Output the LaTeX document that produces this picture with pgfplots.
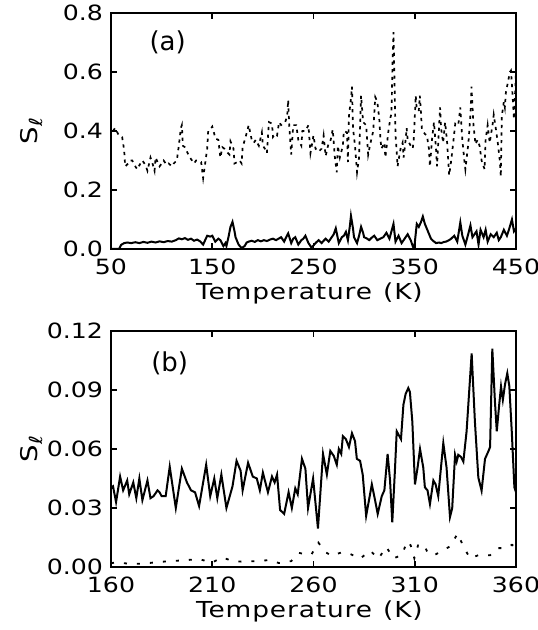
\documentclass[border=0pt]{standalone}
\usepackage{fontspec}
\setmainfont{DejaVu Sans}
\newfontfamily\labfont[LetterSpace=4,FakeStretch=1.2]{DejaVu Sans}
\newfontfamily\tickfont[FakeStretch=1.2]{DejaVu Sans}
\usepackage{pgfplots}
\pgfplotsset{compat=1.18}
\begin{document}
\begin{tikzpicture}
\pgfplotsset{
  myaxis/.style={
    scale only axis, width=202.5pt, height=118pt,
    axis line style={line width=1pt},
    tick style={line width=0.9pt, black},
    major tick length=3.2pt, tick align=inside,
    xtick pos=both, ytick pos=both,
    /pgf/number format/assume math mode=true,
    tick label style={font=\fontsize{10.5}{12}\tickfont},
    xticklabel style={yshift=-1.5pt},
    yticklabel style={xshift=-0.5pt},
    xlabel style={at={(axis description cs:0.49,-0.19)}, anchor=center, font=\fontsize{11}{13}\labfont},
    ylabel style={at={(axis description cs:-0.195,0.5)}, anchor=center, font=\fontsize{11.5}{13}\tickfont},
    xlabel={Temperature\hspace{0.5em}(K)},
    ylabel={S\raisebox{-0.4ex}{\fontsize{9}{10}\selectfont ℓ}},
  }
}
\path[use as bounding box] (-55.5pt,-190.5pt) rectangle (213pt,124.5pt);
% ---------------- panel (a)
\begin{axis}[myaxis, at={(0pt,0pt)}, anchor=south west,
  xmin=50, xmax=450, ymin=0, ymax=0.8,
  xtick={50,150,250,350,450}, ytick={0,0.2,0.4,0.6,0.8},
  yticklabel style={/pgf/number format/.cd, fixed, fixed zerofill, precision=1},
  clip=true]
\addplot[black, line width=0.85pt, dash pattern=on 1.6pt off 2.2pt] coordinates {
(52,0.40)(54,0.41)(57,0.39)(61,0.38)(63,0.335)(64,0.28)(67,0.29)(69,0.30)(71,0.30)(73,0.285)
(76,0.27)(79,0.29)(81,0.30)(84,0.285)(86,0.265)(89,0.31)(91,0.29)(93,0.265)(94,0.31)(96,0.295)
(98,0.28)(100,0.29)(102,0.30)(105,0.285)(107,0.29)(110,0.28)(112,0.29)(115,0.30)(117,0.35)(119,0.41)
(120,0.42)(121,0.35)(123,0.345)(125,0.33)(128,0.31)(130,0.30)(132,0.29)(134,0.30)(136,0.30)(139,0.295)
(141,0.24)(143,0.29)(145,0.34)(146,0.40)(148,0.405)(150,0.415)(152,0.39)(153,0.375)(156,0.37)(158,0.31)
(160,0.345)(162,0.34)(164,0.33)(167,0.32)(168,0.365)(170,0.35)(171,0.34)(172,0.29)(175,0.295)(177,0.30)
(179,0.29)(180,0.345)(183,0.38)(186,0.42)(189,0.37)(191,0.36)(193,0.37)(196,0.35)(199,0.395)(200,0.35)
(202,0.34)(204,0.325)(206,0.43)(209,0.425)(210,0.38)(212,0.39)(214,0.385)(216,0.43)(218,0.42)(220,0.425)
(222,0.43)(224,0.45)(225,0.505)(226,0.42)(227,0.37)(228,0.32)(230,0.42)(233,0.42)(235,0.37)(238,0.35)
(239,0.40)(242,0.40)(245,0.42)(247,0.325)(250,0.385)(252,0.34)(255,0.33)(258,0.34)(260,0.385)(262,0.315)
(265,0.36)(267,0.37)(269,0.405)(271,0.315)(273,0.26)(274,0.35)(276,0.31)(279,0.35)(280,0.40)(283,0.395)
(284,0.295)(285,0.45)(287,0.51)(288,0.55)(289,0.41)(291,0.35)(293,0.26)(295,0.31)(296,0.41)(297,0.52)
(299,0.43)(302,0.42)(304,0.32)(306,0.355)(309,0.40)(311,0.515)(313,0.50)(315,0.44)(316,0.38)(317,0.34)
(320,0.36)(321,0.31)(324,0.40)(326,0.445)(327,0.46)(328,0.62)(329,0.735)(330,0.57)(331,0.385)(332,0.34)
(333,0.28)(336,0.34)(338,0.36)(339,0.31)(341,0.37)(342,0.41)(343,0.37)(346,0.35)(348,0.34)(349,0.37)
(351,0.52)(352,0.47)(354,0.47)(355,0.52)(356,0.47)(357,0.41)(358,0.40)(360,0.39)(362,0.385)(364,0.34)
(365,0.28)(367,0.37)(369,0.43)(371,0.34)(372,0.28)(375,0.48)(376,0.41)(378,0.36)(380,0.43)(382,0.36)
(384,0.25)(386,0.30)(388,0.36)(390,0.425)(393,0.42)(395,0.48)(397,0.37)(399,0.30)(400,0.27)(403,0.36)
(405,0.455)(406,0.55)(408,0.42)(410,0.355)(412,0.37)(414,0.35)(416,0.30)(419,0.27)(420,0.37)(422,0.42)
(424,0.36)(427,0.425)(428,0.455)(430,0.41)(432,0.36)(434,0.30)(435,0.245)(436,0.45)(438,0.50)(439,0.48)
(440,0.53)(442,0.565)(444,0.60)(445,0.605)(446,0.555)(448,0.44)(450,0.60)
};
\addplot[black, line width=1pt] coordinates {
(50,0.0)(58,0.0)(60,0.014)(63,0.02)(66,0.022)(70,0.02)(74,0.023)(78,0.02)(82,0.024)(86,0.021)
(90,0.025)(94,0.022)(98,0.026)(102,0.023)(106,0.027)(110,0.025)(114,0.03)(117,0.036)(120,0.033)(123,0.037)
(126,0.031)(129,0.035)(132,0.028)(135,0.032)(138,0.026)(141,0.015)(143,0.03)(145,0.045)(148,0.042)(150,0.045)
(153,0.025)(156,0.035)(158,0.03)(161,0.01)(163,0.02)(164,0.01)(166,0.04)(168,0.075)(170,0.092)(172,0.06)
(173,0.04)(176,0.015)(179,0.003)(182,0.01)(184,0.022)(186,0.025)(189,0.028)(192,0.024)(195,0.03)(198,0.026)
(201,0.03)(204,0.027)(207,0.032)(210,0.035)(213,0.03)(216,0.036)(218,0.04)(221,0.025)(223,0.04)(225,0.053)
(228,0.02)(230,0.035)(232,0.04)(235,0.015)(238,0.03)(240,0.035)(242,0.045)(245,0.02)(248,0.005)(250,0.012)
(252,0.02)(255,0.03)(258,0.02)(260,0.028)(262,0.035)(265,0.025)(268,0.04)(270,0.05)(272,0.07)(275,0.02)
(278,0.04)(280,0.045)(282,0.058)(284,0.03)(286,0.08)(287,0.112)(289,0.07)(290,0.04)(293,0.02)(295,0.045)
(297,0.075)(299,0.055)(300,0.04)(303,0.035)(305,0.03)(308,0.04)(310,0.045)(313,0.03)(316,0.035)(319,0.04)
(322,0.055)(325,0.035)(327,0.06)(329,0.085)(331,0.025)(334,0.045)(337,0.02)(340,0.035)(343,0.05)(346,0.03)
(349,0.0)(350,0.02)(352,0.085)(354,0.075)(356,0.09)(358,0.11)(360,0.085)(363,0.06)(366,0.035)(368,0.028)
(371,0.02)(374,0.022)(376,0.02)(379,0.024)(381,0.025)(384,0.03)(386,0.035)(389,0.045)(392,0.025)(395,0.09)
(397,0.045)(400,0.015)(402,0.04)(405,0.08)(407,0.04)(409,0.05)(411,0.06)(413,0.015)(415,0.065)(418,0.04)
(420,0.065)(422,0.025)(425,0.05)(428,0.04)(431,0.055)(433,0.03)(435,0.04)(438,0.065)(441,0.045)(443,0.065)
(446,0.1)(448,0.06)(450,0.07)
};
\node[font=\fontsize{13}{15}\selectfont] at (axis cs:106,0.70) {(a)};
\end{axis}
% ---------------- panel (b)
\begin{axis}[myaxis, at={(0pt,-159pt)}, anchor=south west,
  xmin=160, xmax=360, ymin=0, ymax=0.12,
  xtick={160,210,260,310,360}, ytick={0,0.03,0.06,0.09,0.12},
  yticklabel style={/pgf/number format/.cd, fixed, fixed zerofill, precision=2},
  clip=true]
\addplot[black, line width=1pt] coordinates {
(160,0.040)(161,0.041)(162.5,0.033)(164.5,0.046)(166,0.039)(168,0.044)(169,0.037)(171,0.043)(172.5,0.035)(174,0.045)
(175.5,0.034)(178,0.044)(179.5,0.035)(181,0.036)(183,0.039)(184,0.038)(185,0.036)(187,0.036)(189,0.051)(192,0.030)
(195,0.050)(197.5,0.043)(199.5,0.039)(201.5,0.038)(203.5,0.031)(207,0.052)(209,0.036)(211,0.045)(212.5,0.035)(214.5,0.047)
(217,0.030)(220,0.041)(222,0.054)(224,0.049)(225,0.039)(227.7,0.053)(230,0.046)(232,0.045)(233.5,0.039)(235,0.048)
(237.5,0.038)(239.5,0.046)(240.8,0.043)(242,0.047)(243.5,0.029)(245.5,0.027)(247.7,0.038)(249.3,0.030)(251,0.040)(252.2,0.037)
(254.3,0.055)(256,0.050)(257.3,0.030)(259.8,0.045)(262.2,0.0196)(264.7,0.0575)(266.6,0.047)(268.3,0.059)(270,0.0565)(271.5,0.052)
(272.5,0.060)(273.7,0.0575)(274.5,0.0665)(276,0.065)(277.5,0.061)(279,0.068)(280.5,0.064)(281.4,0.055)(283,0.054)(284.3,0.047)
(286,0.026)(288.8,0.042)(290.4,0.034)(291.7,0.027)(293.7,0.036)(295,0.039)(296.6,0.0575)(297.8,0.044)(298.9,0.0227)(300.2,0.049)
(301.1,0.069)(303.2,0.065)(304.4,0.0825)(305.5,0.088)(306.8,0.091)(307.6,0.089)(308.8,0.074)(310.1,0.042)(311.4,0.0506)(312.6,0.060)
(314.2,0.0506)(315,0.0405)(316.3,0.039)(317.5,0.032)(319.2,0.044)(320.3,0.042)(321.6,0.036)(324.1,0.063)(325.7,0.0506)(327.4,0.0254)
(328.5,0.030)(329.9,0.057)(330.7,0.0536)(331.5,0.057)(332.8,0.056)(334,0.0536)(335.6,0.069)(338.1,0.1086)(339.7,0.074)(341.4,0.0455)
(343,0.0388)(344.7,0.055)(346.3,0.0587)(347.2,0.061)(348.3,0.111)(349.6,0.084)(350.5,0.069)(351.7,0.0825)(352.6,0.0918)(353.5,0.085)
(354.6,0.093)(355.7,0.0985)(356.7,0.092)(357.9,0.069)(359.2,0.0405)(360,0.038)
};
\addplot[black, line width=0.9pt, dash pattern=on 1.5pt off 5pt] coordinates {
(160,0.002)(162,0.0022)(169.5,0.0017)(176,0.0017)(183,0.0025)(189.5,0.003)(197,0.0035)(203.6,0.004)(209.8,0.0022)(215,0.0049)
(220,0.003)(225,0.0027)(232,0.003)(238,0.0035)(243,0.002)(249,0.003)(252.7,0.0072)(255,0.0067)(259,0.0064)(262.4,0.0124)
(266,0.0075)(269,0.0057)(274,0.0075)(278,0.0067)(283,0.0042)(288,0.0084)(292,0.0042)(296,0.0102)(299.4,0.0044)(303.6,0.006)
(306.3,0.0131)(308,0.011)(309.8,0.0044)(311.6,0.011)(314.4,0.0116)(316.5,0.007)(319.5,0.006)(323.2,0.008)(327.4,0.0105)(331.2,0.017)
(334,0.0105)(337.3,0.0044)(341.4,0.006)(347.2,0.006)(351,0.0096)(355,0.0096)(358,0.0113)(360,0.01)
};
\node[font=\fontsize{13}{15}\selectfont] at (axis cs:189,0.1034) {(b)};
\end{axis}
\end{tikzpicture}
\end{document}
